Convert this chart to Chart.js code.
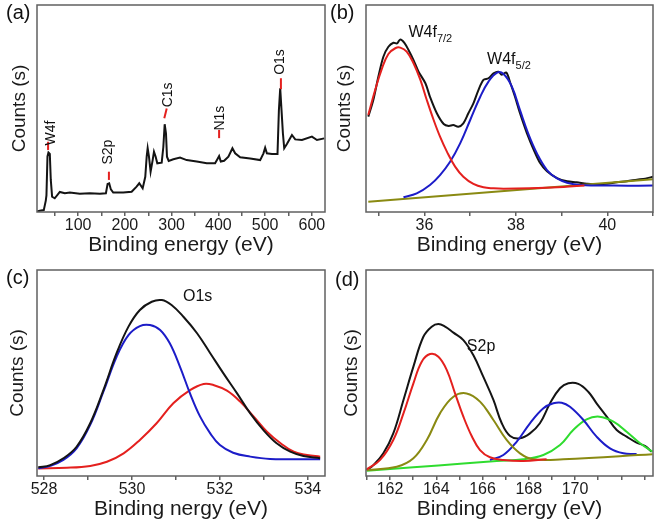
<!DOCTYPE html>
<html>
<head>
<meta charset="utf-8">
<script src="https://cdn.jsdelivr.net/npm/chart.js@4.4.0/dist/chart.umd.min.js"></script>
<style>
  body { margin: 0; background: #fff; }
  #wrap { position: relative; width: 661px; height: 526px; }
  canvas { position: absolute; }
</style>
</head>
<body>
<div id="wrap">
  <canvas id="chartA" width="330" height="260" style="left:0;top:0"></canvas>
  <canvas id="chartB" width="331" height="260" style="left:330px;top:0"></canvas>
  <canvas id="chartC" width="330" height="266" style="left:0;top:260px"></canvas>
  <canvas id="chartD" width="331" height="266" style="left:330px;top:260px"></canvas>
</div>
<script>
// (a) survey spectrum
const surveyEnergy = [12, 18, 26.5, 30.8, 32.2, 34.4, 36.5, 39.4, 41.5, 44.3,
  50, 60.8, 71.5, 82.2, 103.6, 125, 146.5, 159.4, 163, 166.4,
  170, 175, 196.4, 214.4, 225, 230.7, 238, 243.6, 246.6, 248.7,
  251.5, 255, 259.4, 262.2, 265.8, 269.3, 278.7, 282.2, 285.1, 287.9,
  290, 293.7, 303.6, 317.9, 332.2, 353.6, 375.1, 392.9, 397.8, 401.5,
  405.1, 412.2, 421.4, 430, 435.8, 446.5, 467.9, 489.3, 496.4, 500,
  503.7, 514.4, 526.4, 529.4, 532.2, 535, 538, 540.8, 546.5, 557.3,
  564.3, 578.7, 600, 610.8, 626.4];
const surveyCounts = [0.2, 0.6, 0.9, 5.4, 7.9, 26.3, 28.2, 27.5, 15.2, 7.3,
  6.5, 9.5, 8.9, 9.2, 8.6, 8.9, 8.6, 8.9, 13.3, 13.6,
  10.7, 9.2, 9.2, 9.6, 12, 13.6, 11.2, 16.7, 26.2, 30.2,
  26.2, 19.1, 24.6, 28.6, 26.2, 23.1, 23.4, 30.8, 41.6, 37.2,
  26.2, 24.2, 25, 25.8, 24.6, 23.9, 23.1, 23.1, 25, 26.5,
  23.9, 24.3, 26.2, 30.2, 27.8, 25.9, 25.4, 24.6, 27.8, 30.5,
  27.8, 27.5, 27.5, 48.3, 58.6, 48.3, 37.2, 30.2, 32.2, 36.5,
  34.4, 34.1, 35.7, 34.1, 34.9];
const surveyTicks = [50, 100, 150, 200, 250, 300, 350, 400, 450, 500, 550, 600];
const surveyTickLabels = [100, 200, 300, 400, 500, 600];
const surveyPeaks = ['W4f', 'S2p', 'C1s', 'N1s', 'O1s'];
const surveyPeakE = [43, 164.3, 292.8, 403.6, 532];
const surveyPeakY = [37.4, 28.4, 55.5, 44.5, 71.1];
// red marks: [E1, y1, E2, y2]
const surveyMarks = [[35.7, 29.4, 35.7, 33.3], [165.8, 15.2, 165.8, 19.1],
  [284.3, 44.4, 289.4, 49.1], [401.5, 35, 401.5, 38.9], [533.7, 58.2, 533.7, 63.4]];

// (b) W4f
const w4fEnergy = [34.77, 34.88, 34.99, 35.10, 35.21, 35.32, 35.40, 35.47, 35.56, 35.65,
  35.76, 35.87, 36.02, 36.12, 36.27, 36.42, 36.53, 36.63, 36.74, 36.85,
  36.96, 37.07, 37.18, 37.29, 37.40, 37.51, 37.62, 37.69, 37.79, 37.88,
  37.98, 38.09, 38.24, 38.39, 38.53, 38.68, 38.90, 39.12, 39.33, 39.55,
  39.77, 39.99, 40.21, 40.43, 40.65, 40.83, 41.0];
const w4fTotal = [45.2, 53.1, 64.1, 73.6, 78.3, 80.2, 79.9, 81.8, 80.2, 76.8,
  72, 66.5, 61, 54.6, 46.8, 41.7, 40.8, 41.2, 40.4, 42,
  46.8, 51.5, 57.8, 62.6, 63.4, 65.7, 66.5, 65, 66.1, 61,
  54.6, 46.8, 37.4, 29.5, 23.2, 19.3, 16.1, 14.6, 14.1, 13.4,
  13, 13.4, 14.1, 14.6, 15.3, 15.8, 16.7];
const w4f72Energy = [34.77, 34.92, 35.07, 35.21, 35.36, 35.47, 35.61, 35.76, 35.91, 36.05,
  36.20, 36.34, 36.49, 36.67, 36.85, 37.07, 37.29, 37.51, 37.73, 38.3, 39.04, 39.5];
const w4f72 = [46, 57.8, 68.1, 74.9, 77.6, 77.9, 76, 70.5, 62.6, 53.1,
  43.6, 35.7, 28.6, 21.5, 16.7, 13.3, 11.7, 11.2, 11, 11.2, 11.9, 12.6];
const w4f52Energy = [35.54, 35.83, 36.12, 36.34, 36.56, 36.78, 37.00, 37.22, 37.40, 37.59,
  37.73, 37.91, 38.09, 38.27, 38.46, 38.68, 38.90, 39.12, 39.41, 40.14, 41.0];
const w4f52 = [7, 8.8, 12.8, 17.5, 23.8, 32.5, 43.6, 54.6, 61.8, 66.1,
  65.4, 59.5, 48.3, 37.2, 27.8, 19.9, 15.9, 13.9, 12.8, 12.5, 12.5];
const w4fBgEnergy = [34.77, 41.0];
const w4fBg = [4.9, 15.5];
const w4fTicks = [35, 36, 37, 38, 39, 40, 41];
const w4fTickLabels = [36, 38, 40];

// (c) O1s
const o1sEnergy = [527.87, 528.14, 528.44, 528.74, 529.05, 529.35, 529.65, 529.92, 530.18, 530.45,
  530.68, 530.90, 531.17, 531.48, 531.78, 532.08, 532.39, 532.69, 532.99, 533.29,
  533.60, 533.90, 534.28];
const o1sTotal = [4.2, 5.3, 8.6, 14.2, 25.6, 41.7, 59.6, 72.5, 80.6, 84.6,
  85.4, 83, 77.3, 69.3, 59.6, 49.8, 40.1, 30.4, 22.3, 15.9,
  11.8, 9.7, 8.6];
const o1sLowEnergy = [527.87, 528.14, 528.44, 528.74, 529.05, 529.35, 529.65, 529.92, 530.18, 530.41,
  530.64, 530.86, 531.09, 531.32, 531.55, 531.78, 532.00, 532.30, 532.69, 533.14, 534.28];
const o1sLow = [3.7, 4.9, 7.8, 13.4, 24.8, 40.9, 57.9, 68.4, 72.8, 73.3,
  70.9, 64.4, 53.1, 40.1, 28.8, 20.7, 15, 11.3, 9.4, 8.3, 8.1];
const o1sHighEnergy = [527.87, 528.52, 529.05, 529.43, 529.81, 530.18, 530.56, 530.94, 531.32, 531.63,
  531.85, 532.16, 532.46, 532.77, 533.07, 533.38, 533.68, 533.98, 534.28];
const o1sHigh = [3.7, 4, 4.9, 6.9, 11, 17.5, 25.6, 35.3, 41.7, 44.7,
  44.2, 41.4, 36.1, 28.8, 21.5, 15.9, 11.8, 10.2, 9.4];
const o1sTicks = [528, 529, 530, 531, 532, 533, 534];
const o1sTickLabels = [528, 530, 532, 534];

// (d) S2p
const s2pEnergy = [160.99, 161.28, 161.71, 162.14, 162.58, 163.01, 163.44, 163.80, 164.09, 164.38,
  164.74, 165.17, 165.60, 166.03, 166.47, 166.83, 167.19, 167.62, 168.05, 168.48,
  168.92, 169.35, 169.71, 170.14, 170.57, 170.93, 171.37, 171.80, 172.23, 172.66,
  173.02, 173.31];
const s2pTotal = [2.9, 5.3, 11, 20.7, 36.9, 53.1, 67.6, 72.5, 73.8, 72.5,
  69.6, 66, 58.7, 48.2, 36.9, 25.6, 19.4, 18.3, 20.7, 25.6,
  35.3, 42.6, 45, 44.7, 40.9, 35.3, 28.8, 22.3, 19.1, 16.2,
  14.6, 11.8];
const s2p32Energy = [160.99, 161.57, 162.14, 162.58, 163.01, 163.37, 163.73, 164.09, 164.45, 164.81,
  165.17, 165.53, 165.89, 166.32, 166.90, 167.76, 168.77];
const s2p32 = [3.2, 7.8, 17.5, 30.4, 45, 55.5, 59.2, 57.9, 51.5, 40.1,
  28.8, 19.4, 12.6, 9.1, 7.8, 7.3, 8.1];
const s2p12Energy = [160.99, 162.29, 163.01, 163.59, 164.16, 164.74, 165.31, 165.89, 166.47, 167.04,
  167.62, 168.20, 169.49, 173.35];
const s2p12 = [2.9, 4.5, 8.6, 17.5, 30.4, 38.5, 40.1, 36.1, 27.2, 17.5,
  11, 8.1, 8.1, 10.5];
const sulfAEnergy = [166.32, 166.90, 167.48, 168.05, 168.63, 169.06, 169.42, 169.78, 170.36, 170.93,
  171.51, 172.09, 172.66];
const sulfA = [7.8, 10.2, 16.7, 25.6, 32.9, 35.3, 35.6, 33.6, 27.2, 19.1,
  13.4, 11, 10.7];
const sulfBEnergy = [160.99, 163.01, 165.17, 166.61, 167.76, 168.63, 169.35, 169.92, 170.50, 171.05,
  171.66, 172.23, 172.81, 173.35];
const sulfB = [2.6, 4.2, 6.1, 7.3, 8.1, 10.2, 15, 22.3, 27.5, 28.8,
  26.4, 21.5, 15.9, 11.8];
const s2pTicks = [161, 162, 163, 164, 165, 166, 167, 168, 169, 170, 171, 172, 173];
const s2pTickLabels = [162, 164, 166, 168, 170];

const FONT = "'Liberation Sans', Arial, sans-serif";
Chart.defaults.font.family = FONT;
Chart.defaults.color = '#1a1a1a';

const BLACK = '#141414', RED = '#e4201e', BLUE = '#1c1cc8', OLIVE = '#8a8a12', GREEN = '#2fdc2f';

function line(xs, ys, color, tension) {
  return {
    data: xs.map((x, i) => ({ x: x, y: ys[i] })),
    borderColor: color, borderWidth: 2, pointRadius: 0,
    tension: tension, fill: false
  };
}

function xScale(min, max, tickVals, labelVals, axisH, titleText, titlePad) {
  return {
    type: 'linear', min: min, max: max,
    afterBuildTicks: s => { s.ticks = tickVals.map(v => ({ value: v })); },
    afterFit: s => { s.height = axisH; },
    ticks: {
      autoSkip: false, maxRotation: 0, padding: 0, font: { size: 16 },
      callback: v => labelVals.includes(v) ? String(v) : ''
    },
    grid: { display: true, drawOnChartArea: false, drawTicks: true, tickLength: 4, color: '#606060', lineWidth: 1.5 },
    border: { display: false },
    title: { display: true, text: titleText, font: { size: 21 }, padding: { top: 0, bottom: titlePad } }
  };
}

function yScale(max, axisW, titlePad) {
  return {
    type: 'linear', min: 0, max: max,
    afterFit: s => { s.width = axisW; },
    ticks: { display: false },
    grid: { display: false },
    border: { display: false },
    title: { display: true, text: 'Counts (s)', font: { size: 19 }, padding: { top: titlePad, bottom: 0 } }
  };
}

// frame, panel letter, peak names
function deco(letter, lx, ly, notes, marks) {
  return {
    id: 'deco' + letter,
    afterDraw(chart) {
      const ctx = chart.ctx, a = chart.chartArea;
      const xs = chart.scales.x, ys = chart.scales.y;
      ctx.save();
      ctx.strokeStyle = '#606060';
      ctx.lineWidth = 1.5;
      ctx.strokeRect(a.left, a.top, a.right - a.left, a.bottom - a.top);
      ctx.fillStyle = '#111';
      ctx.textBaseline = 'middle';
      ctx.font = '20px ' + FONT;
      ctx.fillText(letter, lx, ly);
      (marks || []).forEach(m => {
        ctx.strokeStyle = RED;
        ctx.lineWidth = 2;
        ctx.beginPath();
        ctx.moveTo(xs.getPixelForValue(m[0]), ys.getPixelForValue(m[1]));
        ctx.lineTo(xs.getPixelForValue(m[2]), ys.getPixelForValue(m[3]));
        ctx.stroke();
      });
      notes.forEach(n => {
        const px = xs.getPixelForValue(n.x), py = ys.getPixelForValue(n.y);
        ctx.font = n.size + 'px ' + FONT;
        if (n.rotate) {
          ctx.save();
          ctx.translate(px, py);
          ctx.rotate(-Math.PI / 2);
          ctx.textAlign = 'center';
          ctx.fillText(n.text, 0, 0);
          ctx.restore();
        } else {
          ctx.textAlign = 'left';
          ctx.fillText(n.text, px, py);
          if (n.sub) {
            const w = ctx.measureText(n.text).width;
            ctx.font = Math.round(n.size * 0.7) + 'px ' + FONT;
            ctx.fillText(n.sub, px + w, py + 6);
          }
        }
      });
      ctx.restore();
    }
  };
}

function baseOptions(pad, xs, ys) {
  return {
    responsive: false, animation: false,
    layout: { padding: pad },
    plugins: { legend: { display: false }, tooltip: { enabled: false } },
    scales: { x: xs, y: ys }
  };
}

new Chart(document.getElementById('chartA'), {
  type: 'line',
  data: { datasets: [line(surveyEnergy, surveyCounts, BLACK, 0)] },
  options: baseOptions({ top: 5, right: 5, left: 0, bottom: 0 },
    xScale(12, 628, surveyTicks, surveyTickLabels, 48, 'Binding energy (eV)', 2.4),
    yScale(98.1, 37, 8.6)),
  plugins: [deco('(a)', 6, 13,
    surveyPeaks.map((t, i) => ({ text: t, x: surveyPeakE[i], y: surveyPeakY[i], size: 14, rotate: true })),
    surveyMarks)]
});

new Chart(document.getElementById('chartB'), {
  type: 'line',
  data: { datasets: [
    line(w4f72Energy, w4f72, RED, 0.4),
    line(w4f52Energy, w4f52, BLUE, 0.4),
    line(w4fBgEnergy, w4fBg, OLIVE, 0),
    line(w4fEnergy, w4fTotal, BLACK, 0.3)
  ] },
  options: baseOptions({ top: 5, right: 8, left: 0, bottom: 0 },
    xScale(34.72, 41.0, w4fTicks, w4fTickLabels, 48, 'Binding energy (eV)', 2.4),
    yScale(98.1, 36, 3.6)),
  plugins: [deco('(b)', 0, 13, [
    { text: 'W4f', sub: '7/2', x: 35.65, y: 84.8, size: 16 },
    { text: 'W4f', sub: '5/2', x: 37.37, y: 72, size: 16 }
  ])]
});

new Chart(document.getElementById('chartC'), {
  type: 'line',
  data: { datasets: [
    line(o1sEnergy, o1sTotal, BLACK, 0.4),
    line(o1sLowEnergy, o1sLow, BLUE, 0.4),
    line(o1sHighEnergy, o1sHigh, RED, 0.4)
  ] },
  options: baseOptions({ top: 10, right: 5, left: 0, bottom: 0 },
    xScale(527.84, 534.39, o1sTicks, o1sTickLabels, 50, 'Binding nergy (eV)', 4.4),
    yScale(100, 37, 6.6)),
  plugins: [deco('(c)', 6, 18, [
    { text: 'O1s', x: 531.16, y: 86.9, size: 16 }
  ])]
});

new Chart(document.getElementById('chartD'), {
  type: 'line',
  data: { datasets: [
    line(s2p32Energy, s2p32, RED, 0.4),
    line(s2p12Energy, s2p12, OLIVE, 0.4),
    line(sulfAEnergy, sulfA, BLUE, 0.4),
    line(sulfBEnergy, sulfB, GREEN, 0.4),
    line(s2pEnergy, s2pTotal, BLACK, 0.4)
  ] },
  options: baseOptions({ top: 10, right: 8, left: 0, bottom: 0 },
    xScale(160.96, 173.37, s2pTicks, s2pTickLabels, 50, 'Binding energy (eV)', 4.4),
    yScale(100, 36, 10.6)),
  plugins: [deco('(d)', 5, 20, [
    { text: 'S2p', x: 165.32, y: 62.8, size: 16 }
  ])]
});
</script>
</body>
</html>
